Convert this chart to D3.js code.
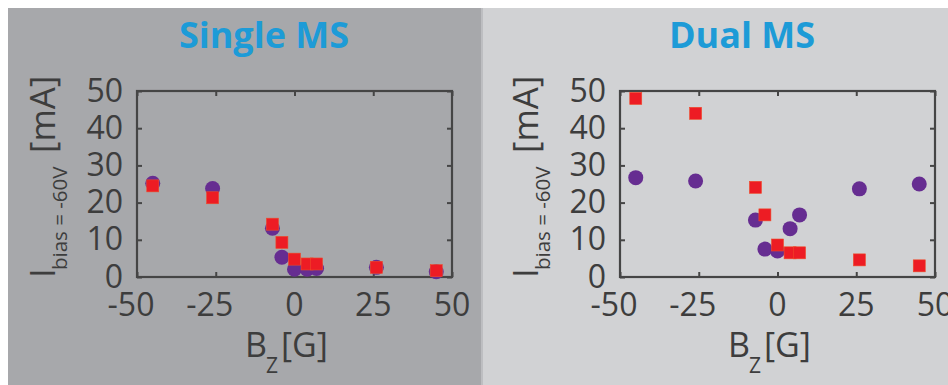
<!DOCTYPE html>
<html>
<head>
<meta charset="utf-8">
<script src="https://cdn.jsdelivr.net/npm/d3@7"></script>
<style>
  html, body { margin: 0; padding: 0; background: #fff; }
  svg { display: block; font-family: "Open Sans", sans-serif; }
</style>
</head>
<body>
<svg id="chart" width="948" height="385"></svg>
<script>
// B_z values (same for every series)
const bz = [-45, -26, -7, -4, 0, 4, 7, 26, 45];

// current at -60V bias [mA]
const singlePurple = [25.2, 23.8, 13.1, 5.3, 2.1, 2.1, 2.3, 2.6, 1.4];
const singleRed = [24.5, 21.3, 14.2, 9.3, 4.8, 3.5, 3.5, 2.6, 1.7];
const dualPurple = [26.7, 25.8, 15.3, 7.5, 7.0, 13.0, 16.7, 23.7, 25.0];
const dualRed = [48.0, 44.0, 24.1, 16.7, 8.6, 6.5, 6.5, 4.6, 3.0];

const panelTitles = ["Single MS", "Dual MS"];
const xTicks = [-50, -25, 0, 25, 50];
const yTicks = [0, 10, 20, 30, 40, 50];

const svg = d3.select("#chart");

// panel backgrounds
svg.append("rect").attr("x", 8).attr("y", 8).attr("width", 473).attr("height", 377).attr("fill", "#a7a8ab");
svg.append("rect").attr("x", 481).attr("y", 8).attr("width", 2).attr("height", 377).attr("fill", "#bdbec1");
svg.append("rect").attr("x", 483).attr("y", 8).attr("width", 465).attr("height", 377).attr("fill", "#d1d2d4");

const panels = [
  { title: panelTitles[0], left: 137, purple: singlePurple, red: singleRed, titleX: 264 },
  { title: panelTitles[1], left: 620, purple: dualPurple, red: dualRed, titleX: 742 }
];

const plotW = 315, plotTop = 91, plotBottom = 277;
const axisColor = "#454545";
const textColor = "#3d3d3d";

panels.forEach(p => {
  const x = d3.scaleLinear().domain([-50, 50]).range([p.left, p.left + plotW]);
  const y = d3.scaleLinear().domain([0, 50]).range([plotBottom, plotTop]);
  const g = svg.append("g");

  // title
  g.append("text")
    .attr("x", p.titleX).attr("y", 48)
    .attr("text-anchor", "middle")
    .attr("font-size", 36).attr("font-weight", "bold")
    .attr("fill", "#1d9bd7")
    .text(p.title);

  // inward ticks on all four sides
  const tickStyle = sel => {
    sel.select(".domain").remove();
    sel.selectAll(".tick line").attr("stroke", axisColor).attr("stroke-width", 2);
    sel.selectAll(".tick text").remove();
  };
  g.append("g").attr("transform", `translate(0,${plotBottom})`)
    .call(d3.axisBottom(x).tickValues(xTicks).tickSize(-5)).call(tickStyle);
  g.append("g").attr("transform", `translate(0,${plotTop})`)
    .call(d3.axisTop(x).tickValues(xTicks).tickSize(-5)).call(tickStyle);
  g.append("g").attr("transform", `translate(${p.left},0)`)
    .call(d3.axisLeft(y).tickValues(yTicks).tickSize(-5)).call(tickStyle);
  g.append("g").attr("transform", `translate(${p.left + plotW},0)`)
    .call(d3.axisRight(y).tickValues(yTicks).tickSize(-5)).call(tickStyle);

  // frame
  g.append("rect")
    .attr("x", x(-50)).attr("y", y(50))
    .attr("width", x(50) - x(-50)).attr("height", y(0) - y(50))
    .attr("fill", "none").attr("stroke", axisColor).attr("stroke-width", 2.2);

  // tick labels
  g.selectAll(".xl").data(xTicks).enter().append("text")
    .attr("x", d => x(d) + (d < 0 ? -6 : 0)).attr("y", 316)
    .attr("text-anchor", "middle").attr("font-size", 32).attr("fill", textColor)
    .text(d => d);
  g.selectAll(".yl").data(yTicks).enter().append("text")
    .attr("x", p.left - 14).attr("y", d => y(d)).attr("dy", "0.33em")
    .attr("text-anchor", "end").attr("font-size", 32).attr("fill", textColor)
    .text(d => d);

  // x label B_z[G]
  const xl = g.append("text").attr("fill", textColor).attr("font-size", 34);
  xl.append("tspan").attr("x", p.left + 108).attr("y", 357).text("B");
  xl.append("tspan").attr("x", p.left + 129).attr("y", 373).attr("font-size", 21).text("Z");
  xl.append("tspan").attr("x", p.left + 144).attr("y", 357).text("[G]");

  // y label I_bias=-60V [mA]
  const yl = g.append("text").attr("fill", textColor).attr("font-size", 35)
    .attr("transform", `translate(${p.left - 82},278) rotate(-90)`);
  yl.append("tspan").attr("x", 0).attr("y", 0).text("I");
  yl.append("tspan").attr("x", 8).attr("y", 12).attr("font-size", 20.5).text("bias = -60V");
  yl.append("tspan").attr("x", 125).attr("y", 0).text("[mA]");

  const pts = bz.map((b, i) => ({ b, purple: p.purple[i], red: p.red[i] }));

  g.selectAll("circle.pu").data(pts).enter().append("circle")
    .attr("cx", d => x(d.b)).attr("cy", d => y(d.purple))
    .attr("r", 7.5).attr("fill", "#662d91");

  g.selectAll("rect.rd").data(pts).enter().append("rect")
    .attr("x", d => x(d.b) - 6).attr("y", d => y(d.red) - 6)
    .attr("width", 12).attr("height", 12)
    .attr("fill", "#ed1c24").attr("stroke", "#f04a28").attr("stroke-width", 0.6);
});
</script>
</body>
</html>
